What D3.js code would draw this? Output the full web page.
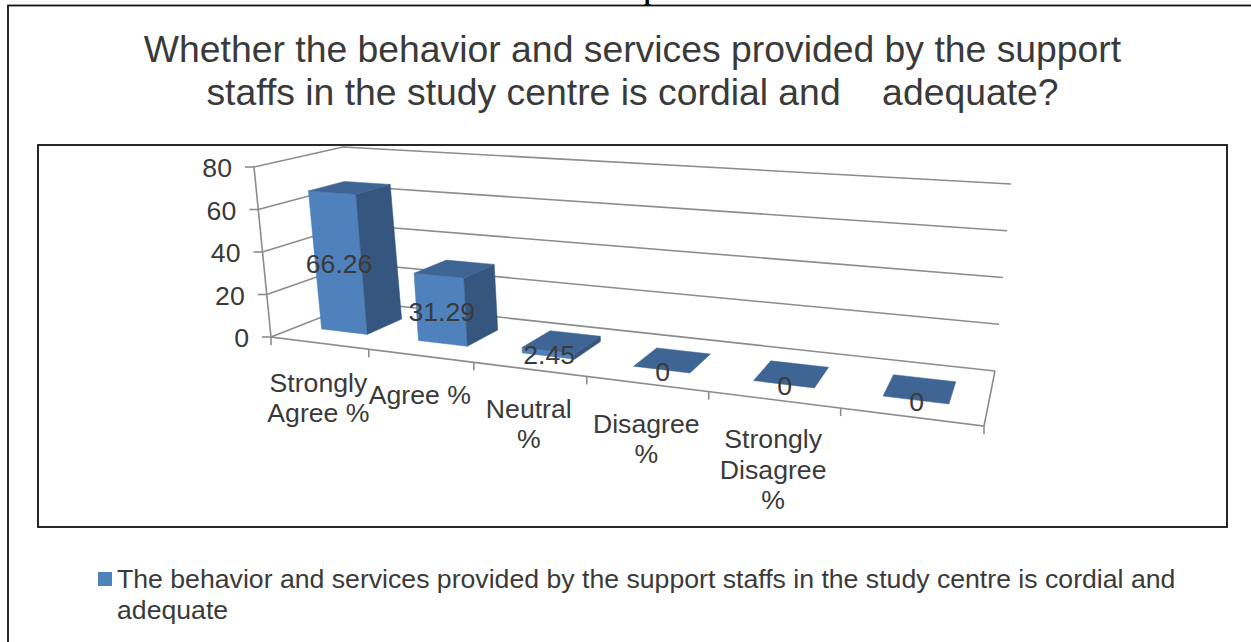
<!DOCTYPE html>
<html><head><meta charset="utf-8">
<script src="https://cdn.jsdelivr.net/npm/d3@7"></script>
<style>html,body{margin:0;padding:0;background:#fff;overflow:hidden}svg{display:block}text{font-family:"Liberation Sans",Arial,sans-serif;fill:#3a3a3a}</style>
</head><body><svg id="c" width="1251" height="642"></svg>
<script>
const categories = ["Strongly Agree %","Agree %","Neutral %","Disagree %","Strongly Disagree %",""];
const categoryLines = [["Strongly","Agree %"],["Agree %"],["Neutral","%"],["Disagree","%"],["Strongly","Disagree","%"],[]];
const values = [66.26,31.29,2.45,0,0,0];
const valueTicks = [0,20,40,60,80];
const titleLines = ["Whether the behavior and services provided by the support","staffs in the study centre is cordial and \u00a0\u00a0 adequate?"];
const legendLines = ["The behavior and services provided by the support staffs in the study centre is cordial and","adequate"];

const svg = d3.select("#c");
// perspective: unit-square to quad
function quad(p00,p10,p11,p01){
  const [x0,y0]=p00,[x1,y1]=p10,[x2,y2]=p11,[x3,y3]=p01;
  const dx1=x1-x2,dx2=x3-x2,sx=x0-x1+x2-x3,dy1=y1-y2,dy2=y3-y2,sy=y0-y1+y2-y3;
  const det=dx1*dy2-dx2*dy1;
  const g=(sx*dy2-dx2*sy)/det,h=(dx1*sy-sx*dy1)/det;
  const a=x1-x0+g*x1,b=x3-x0+h*x3,d=y1-y0+g*y1,e=y3-y0+h*y3;
  return (u,w)=>{const q=g*u+h*w+1;return [(a*u+b*w+x0)/q,(d*u+e*w+y0)/q];};
}
const floorP = quad([271,337],[984,426],[995,371],[360,302]);
const ceilP  = quad([254,167],[1003,215],[1011,184],[343,147]);
const xScale = d3.scaleBand().domain(d3.range(categories.length)).range([-0.002,0.998]).paddingInner(0.52).paddingOuter(0.26);
const xTick  = d3.scaleLinear().domain([0,categories.length]).range([0,1]);
const yScale = d3.scaleLinear().domain([0,80]).range([0,1]);
const zScale = d3.scaleLinear().domain([0,1]).range([0.285,0.7]);
function P(u,val,w){
  const f=floorP(u,w),c=ceilP(u,w),t=yScale(val);
  return [f[0]+(c[0]-f[0])*t,f[1]+(c[1]-f[1])*t];
}
const line=d3.line();
const grey="#8c8c8c";
// frames
svg.append("text").attr("x",644).attr("y",0).attr("font-size",24).attr("font-weight","bold").style("font-family","'Liberation Serif',serif").style("fill","#000").text("p");
svg.append("rect").attr("x",8).attr("y",5.5).attr("width",1300).attr("height",700).attr("fill","#fff").attr("stroke","#111").attr("stroke-width",1.8);
svg.append("rect").attr("x",38).attr("y",145).attr("width",1189).attr("height",382).attr("fill","#fff").attr("stroke","#111").attr("stroke-width",1.8);
// title
svg.append("g").selectAll("text").data(titleLines).join("text")
  .attr("x",632.5).attr("y",(d,i)=>62+i*43).attr("text-anchor","middle").attr("font-size",37.35).text(d=>d);
// grid
const grid=svg.append("g").attr("fill","none").attr("stroke",grey).attr("stroke-width",1.6);
valueTicks.forEach(v=>{
  grid.append("path").attr("d",line([P(0,v,0),P(0,v,1),P(1,v,1)]));
  const a=P(0,v,0);
  grid.append("path").attr("d",line([[a[0]-9,a[1]],a]));
});
grid.append("path").attr("d",line([P(0,80,0),P(0,0,0),P(1,0,0),P(1,0,1)]));
d3.range(categories.length+1).forEach(i=>{
  const a=P(xTick(i),0,0);
  grid.append("path").attr("d",line([a,[a[0],a[1]+8]]));
});
// value tick labels
svg.append("g").selectAll("text").data(valueTicks).join("text")
  .attr("x",d=>P(0,d,0)[0]-22)
  .attr("y",d=>P(0,d,0)[1]+10).attr("text-anchor","end").attr("font-size",26.65).text(d=>d);
// bars
const bars=svg.append("g");
function poly(pts,fill){bars.append("path").attr("d",line(pts)+"Z").attr("fill",fill).attr("stroke",fill).attr("stroke-width",0.5);}
values.forEach((v,i)=>{
  const u0=xScale(i),u1=u0+xScale.bandwidth(),w0=zScale(0),w1=zScale(1);
  if(v>0){
    poly([P(u0,0,w0),P(u1,0,w0),P(u1,v,w0),P(u0,v,w0)],"#4F81BD");
    poly([P(u1,0,w0),P(u1,0,w1),P(u1,v,w1),P(u1,v,w0)],"#35577F");
  }
  poly([P(u0,v,w0),P(u1,v,w0),P(u1,v,w1),P(u0,v,w1)],"#3E6594");
});
// data labels
const labelG=svg.append("g");
values.forEach((v,i)=>{
  const u0=xScale(i),u1=u0+xScale.bandwidth(),w0=zScale(0);
  const c=P((u0+u1)/2,v/2,w0);
  labelG.append("text").attr("x",c[0]+1).attr("y",c[1]+11).attr("text-anchor","middle").attr("font-size",26.65).text(v);
});
// category labels
const catG=svg.append("g");
categoryLines.forEach((ls,i)=>{
  const a=P(xTick(i),0,0),b=P(xTick(i+1),0,0),mx=(a[0]+b[0])/2-1.5,my=(a[1]+b[1])/2;
  ls.forEach((t,j)=>catG.append("text").attr("x",mx).attr("y",my+48.5+j*30.5).attr("text-anchor","middle").attr("font-size",26.65).text(t));
});
// legend
svg.append("rect").attr("x",98).attr("y",572).attr("width",14).attr("height",14).attr("fill","#4F81BD");
svg.append("g").selectAll("text").data(legendLines).join("text")
  .attr("x",117).attr("y",(d,i)=>588+i*31).attr("font-size",26.65).text(d=>d);
</script></body></html>
